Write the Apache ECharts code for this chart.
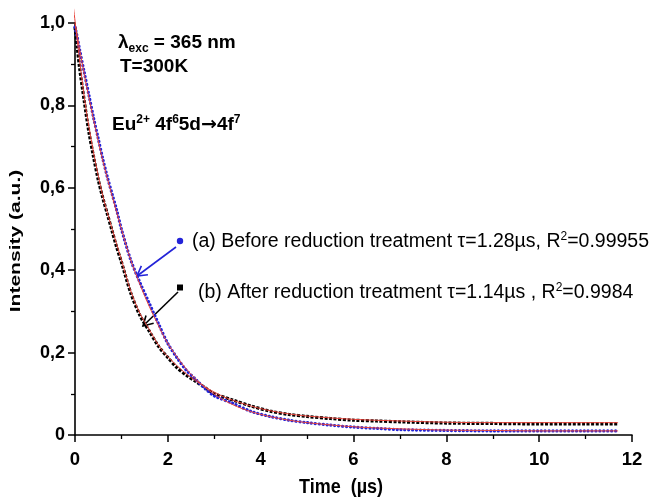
<!DOCTYPE html>
<html><head><meta charset="utf-8">
<script src="https://cdn.jsdelivr.net/npm/echarts@6/dist/echarts.min.js"></script>
<style>html,body{margin:0;padding:0;background:#fff}#c{width:660px;height:500px}</style>
</head><body><div id="c"></div>
<script>
// Time (µs) and normalized intensity
const tA = [0,0.05,0.1,0.2,0.3,0.4,0.5,0.6,0.7,0.8,0.9,1.0,1.2,1.4,1.6,1.8,2.0,2.2,2.4,2.6,2.8,3.0,3.4,3.8,4.2,4.6,5.0,5.5,6.0,6.5,7.0,8.0,9.0,10.0,11.0,11.7];
const yA = [0.99,0.965,0.935,0.88,0.825,0.77,0.72,0.67,0.625,0.585,0.545,0.50,0.425,0.37,0.32,0.27,0.222,0.187,0.157,0.135,0.113,0.095,0.077,0.057,0.045,0.036,0.030,0.024,0.019,0.016,0.013,0.011,0.010,0.010,0.010,0.010];
const tB = [0,0.05,0.1,0.2,0.3,0.4,0.5,0.6,0.7,0.8,0.9,1.0,1.2,1.4,1.6,1.8,2.0,2.2,2.4,2.6,2.8,3.0,3.4,3.8,4.2,4.6,5.0,5.5,6.0,6.5,7.0,8.0,9.0,10.0,11.0,11.7];
const yB = [0.99,0.94,0.89,0.81,0.735,0.675,0.62,0.575,0.535,0.495,0.455,0.42,0.345,0.29,0.252,0.215,0.188,0.163,0.145,0.13,0.115,0.10,0.085,0.07,0.058,0.05,0.045,0.04,0.036,0.034,0.032,0.029,0.028,0.027,0.027,0.027];
const tFitA = [0,0.2,0.4,0.6,0.8,1.0,1.2,1.4,1.6,1.8,2.0,2.4,2.8,3.2,3.6,4.0,4.5,5.0,6.0,7.0,8.0,9.0,10.0,11.7];
const yFitA = [1.0,0.875,0.765,0.665,0.58,0.50,0.425,0.365,0.312,0.265,0.222,0.16,0.116,0.085,0.064,0.050,0.038,0.030,0.020,0.015,0.012,0.011,0.010,0.010];
const tFitB = [-0.03,0.2,0.4,0.6,0.8,1.0,1.2,1.4,1.6,1.8,2.0,2.4,2.8,3.2,3.6,4.0,4.5,5.0,6.0,7.0,8.0,9.0,10.0,11.7];
const yFitB = [1.035,0.82,0.685,0.58,0.5,0.425,0.35,0.295,0.256,0.218,0.19,0.148,0.117,0.093,0.077,0.064,0.053,0.046,0.038,0.034,0.031,0.030,0.030,0.030];
const xTicks = [0,2,4,6,8,10,12];
const yTickLabels = ['0','0,2','0,4','0,6','0,8','1,0'];

const zip = (a,b) => a.map((v,i)=>[v,b[i]]);
const FONT = 'Liberation Sans';
const BLUE = '#2323d8';

function arrow(x1,y1,x2,y2,color){
  const dx=x2-x1, dy=y2-y1, L=Math.hypot(dx,dy), ux=dx/L, uy=dy/L, h=11, a=Math.PI/6;
  const p1=[x2-h*(ux*Math.cos(a)-uy*Math.sin(a)), y2-h*(uy*Math.cos(a)+ux*Math.sin(a))];
  const p2=[x2-h*(ux*Math.cos(a)+uy*Math.sin(a)), y2-h*(uy*Math.cos(a)-ux*Math.sin(a))];
  return [
    {type:'line',shape:{x1,y1,x2,y2},style:{stroke:color,lineWidth:1.6}},
    {type:'polyline',shape:{points:[p1,[x2,y2],p2]},style:{stroke:color,lineWidth:1.6,fill:null}}
  ];
}

const chart = echarts.init(document.getElementById('c'));
chart.setOption({
  animation:false,
  grid:{left:75,right:28,top:23,bottom:65},
  xAxis:{type:'value',min:0,max:12,interval:2,
    axisLine:{lineStyle:{color:'#000',width:1.6}},
    axisTick:{length:7,lineStyle:{color:'#000',width:1.5}},
    minorTick:{show:true,splitNumber:2,length:4,lineStyle:{color:'#000',width:1.3}},
    splitLine:{show:false},
    axisLabel:{margin:15,color:'#000',fontFamily:FONT,fontWeight:'bold',fontSize:18.5,
      formatter:v=>xTicks.includes(v)?String(v):''}},
  yAxis:{type:'value',min:0,max:1,interval:0.2,
    axisLine:{show:true,lineStyle:{color:'#000',width:1.6}},
    axisTick:{show:true,length:7,lineStyle:{color:'#000',width:1.5}},
    minorTick:{show:true,splitNumber:2,length:4,lineStyle:{color:'#000',width:1.3}},
    splitLine:{show:false},
    axisLabel:{margin:10,color:'#000',fontFamily:FONT,fontWeight:'bold',fontSize:18,
      formatter:v=>yTickLabels[Math.round(v*5)]}},
  series:[
    {type:'line',data:zip(tB,yB),showSymbol:false,smooth:0.3,z:2,
      lineStyle:{color:'#000',width:3.2,type:[3,1.6]}},
    {type:'line',data:zip(tA,yA),showSymbol:false,smooth:0.3,z:3,
      lineStyle:{color:BLUE,width:3.2,type:[0.1,3.8],cap:'round'}},
    {type:'line',data:zip(tFitB,yFitB),showSymbol:false,smooth:0.3,clip:false,z:4,
      lineStyle:{color:'#e8433a',width:1}},
    {type:'line',data:zip(tFitA,yFitA),showSymbol:false,smooth:0.3,clip:false,z:4,
      lineStyle:{color:'#e8433a',width:1}}
  ],
  graphic:[
    {type:'text',x:341,y:487,scaleY:1.15,style:{text:'Time  (µs)',font:'bold 18px "Liberation Sans"',fill:'#000',align:'center',verticalAlign:'middle'}},
    {type:'text',x:16,y:241,rotation:Math.PI/2,scaleX:1.45,style:{text:'Intensity (a.u.)',font:'bold 14.5px "Liberation Sans"',fill:'#000',align:'center',verticalAlign:'middle'}},
    {type:'text',x:118,y:43,style:{text:'{b|λ}{s|exc}{b| = 365 nm}',verticalAlign:'middle',
      rich:{b:{fontFamily:FONT,fontWeight:'bold',fontSize:19,color:'#000'},
            s:{fontFamily:FONT,fontWeight:'bold',fontSize:12,color:'#000',padding:[11,0,0,0]}}}},
    {type:'text',x:120,y:67,style:{text:'T=300K',font:'bold 19px "Liberation Sans"',fill:'#000',verticalAlign:'middle'}},
    {type:'text',x:112,y:125,style:{text:'{b|Eu}{s|2+}{b| 4f}{s|6}{b|5d}{a|→}{b|4f}{s|7}',verticalAlign:'middle',
      rich:{b:{fontFamily:FONT,fontWeight:'bold',fontSize:19,color:'#000'},
            a:{fontFamily:'DejaVu Sans',fontWeight:'bold',fontSize:19,color:'#000'},
            s:{fontFamily:FONT,fontWeight:'bold',fontSize:12,color:'#000',padding:[0,0,11,0]}}}},
    {type:'circle',shape:{cx:180,cy:241,r:3.2},style:{fill:BLUE}},
    {type:'text',x:192,y:242,style:{text:'{n|(a) Before reduction treatment τ=1.28µs, R}{s|2}{n|=0.99955}',verticalAlign:'middle',
      rich:{n:{fontFamily:FONT,fontSize:19.5,color:BLUE},s:{fontFamily:FONT,fontSize:12,color:BLUE,padding:[0,0,11,0]}}}},
    {type:'rect',shape:{x:177,y:284.5,width:6,height:6},style:{fill:'#000'}},
    {type:'text',x:198,y:293,style:{text:'{n|(b) After reduction treatment τ=1.14µs , R}{s|2}{n|=0.9984}',verticalAlign:'middle',
      rich:{n:{fontFamily:FONT,fontSize:19.5,color:'#000'},s:{fontFamily:FONT,fontSize:12,color:'#000',padding:[0,0,11,0]}}}},
    ...arrow(176,247,137,276,BLUE),
    ...arrow(178,292,143,326,'#000')
  ]
});
</script></body></html>
